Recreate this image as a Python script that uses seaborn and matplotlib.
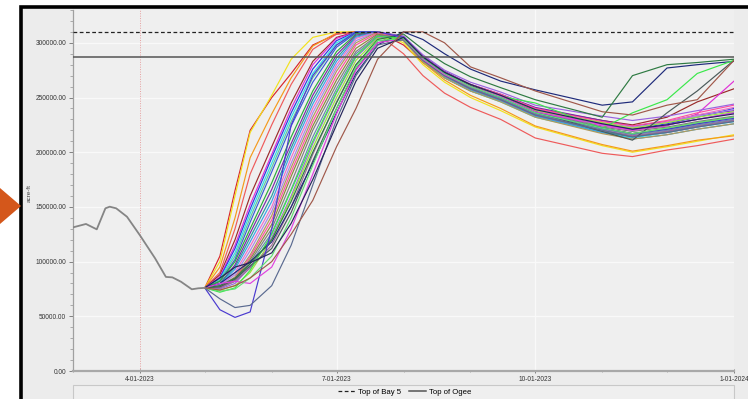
import matplotlib
matplotlib.use("Agg")
import matplotlib.pyplot as plt
import matplotlib.dates as mdates
from matplotlib.ticker import MultipleLocator, StrMethodFormatter, FuncFormatter
from matplotlib.patches import Rectangle, Polygon
from matplotlib.lines import Line2D
import pandas as pd
import seaborn as sns

# ---------------- data ----------------
# observed storage (acre-ft)
obs_dates = ["2023-03-01", "2023-03-07", "2023-03-12", "2023-03-16", "2023-03-18",
             "2023-03-21", "2023-03-26", "2023-04-01", "2023-04-08", "2023-04-13",
             "2023-04-16", "2023-04-20", "2023-04-25", "2023-04-28", "2023-05-01"]
obs_values = [131300, 134400, 129500, 148700, 150200,
              148700, 141000, 124000, 103000, 86000,
              85600, 81600, 74700, 75600, 76000]

# forecast knot dates shared by all ensemble traces
fc_dates = ["2023-05-01", "2023-05-08", "2023-05-15", "2023-05-22", "2023-06-01",
            "2023-06-10", "2023-06-20", "2023-07-01", "2023-07-10", "2023-07-20",
            "2023-08-01", "2023-08-10", "2023-08-20", "2023-09-01", "2023-09-15",
            "2023-10-01", "2023-11-01", "2023-11-15", "2023-12-01", "2023-12-15",
            "2024-01-01"]

# ensemble traces, thousand acre-ft
red_fast     = [76, 105, 165, 220, 250, 272, 298, 308, 310, 310, 298, 282, 268, 256, 247, 233, 218, 214, 218, 223, 229]
yellow       = [76, 100, 160, 218, 252, 285, 305, 310, 310, 310, 300, 280, 264, 250, 238, 223, 206, 200, 205, 210, 216]
orange       = [76, 95, 140, 195, 235, 268, 297, 309, 310, 310, 302, 282, 266, 252, 240, 224, 207, 201, 206, 211, 215]
salmon       = [76, 90, 130, 180, 225, 262, 294, 308, 310, 308, 290, 270, 254, 241, 230, 213, 199, 196, 202, 206, 212]
dark_red     = [76, 88, 120, 160, 205, 245, 283, 305, 310, 310, 304, 287, 273, 261, 252, 240, 229, 225, 232, 246, 258]
magenta      = [76, 86, 115, 152, 198, 240, 280, 304, 310, 310, 303, 284, 270, 259, 250, 237, 224, 220, 224, 235, 265]
blue         = [76, 85, 112, 148, 195, 236, 276, 302, 310, 310, 305, 286, 272, 260, 251, 238, 226, 221, 226, 232, 240]
cyan         = [76, 84, 108, 144, 190, 232, 272, 300, 310, 310, 302, 283, 268, 256, 246, 232, 218, 213, 218, 223, 228]
mint         = [76, 83, 105, 140, 186, 228, 268, 298, 309, 310, 303, 285, 270, 258, 248, 234, 220, 215, 219, 224, 229]
royal        = [76, 82, 102, 136, 182, 224, 264, 296, 309, 310, 304, 286, 272, 261, 251, 238, 226, 221, 225, 230, 236]
green        = [76, 82, 100, 130, 172, 214, 256, 292, 308, 310, 304, 285, 271, 259, 249, 235, 222, 217, 221, 226, 232]
purple       = [76, 80, 97, 126, 166, 208, 252, 289, 307, 310, 306, 288, 274, 262, 253, 241, 229, 224, 228, 234, 238]
teal         = [76, 80, 95, 122, 160, 204, 248, 286, 306, 310, 304, 285, 270, 258, 248, 234, 219, 214, 219, 224, 229]
sky          = [76, 79, 93, 118, 155, 200, 244, 283, 305, 310, 303, 284, 269, 257, 247, 233, 218, 212, 216, 221, 226]
pink         = [76, 78, 90, 114, 150, 195, 240, 280, 304, 310, 305, 287, 273, 261, 251, 238, 226, 222, 228, 234, 241]
lavender     = [76, 78, 88, 110, 146, 190, 236, 277, 302, 310, 305, 287, 273, 261, 252, 239, 227, 223, 227, 233, 239]
tan          = [76, 77, 86, 106, 142, 186, 232, 274, 300, 310, 302, 283, 268, 256, 246, 232, 217, 212, 216, 221, 226]
hot_pink     = [76, 77, 85, 104, 138, 182, 228, 270, 298, 309, 305, 287, 273, 262, 253, 240, 228, 224, 229, 236, 243]
olive        = [76, 76, 84, 102, 134, 178, 224, 266, 295, 308, 303, 284, 270, 258, 248, 235, 222, 217, 222, 227, 232]
grey_m       = [76, 76, 83, 100, 130, 172, 220, 262, 292, 307, 305, 287, 273, 261, 251, 237, 223, 219, 223, 228, 233]
steel        = [76, 76, 82, 98, 126, 166, 214, 258, 290, 306, 304, 285, 271, 259, 249, 235, 221, 216, 220, 225, 230]
violet       = [76, 75, 80, 95, 122, 160, 208, 254, 287, 305, 306, 289, 275, 264, 255, 243, 233, 229, 233, 238, 244]
lime         = [76, 74, 78, 90, 120, 158, 204, 250, 284, 304, 304, 286, 272, 261, 251, 238, 227, 222, 227, 232, 237]
mauve        = [76, 76, 82, 94, 115, 150, 198, 246, 280, 302, 303, 284, 270, 258, 248, 234, 220, 215, 219, 224, 229]
dark_grey    = [76, 77, 84, 96, 112, 145, 192, 240, 276, 300, 305, 287, 273, 261, 251, 237, 219, 211, 236, 256, 284]
navy         = [76, 80, 90, 100, 118, 150, 190, 236, 272, 298, 310, 303, 290, 276, 265, 257, 243, 246, 277, 280, 283]
bright_green = [76, 72, 76, 92, 125, 165, 210, 255, 288, 306, 304, 286, 272, 260, 251, 245, 222, 236, 248, 272, 284]
dark_green   = [76, 78, 85, 98, 120, 155, 200, 245, 280, 303, 308, 294, 281, 269, 259, 248, 232, 270, 280, 282, 285]
slate_blue   = [76, 56, 49, 54, 130, 225, 270, 298, 310, 310, 305, 286, 272, 260, 250, 236, 222, 217, 221, 226, 231]
grey_blue    = [76, 66, 58, 60, 78, 115, 170, 230, 270, 298, 303, 284, 270, 258, 248, 234, 220, 214, 218, 223, 228]
magenta_low  = [76, 80, 82, 80, 95, 130, 180, 235, 275, 300, 304, 285, 271, 260, 251, 237, 225, 220, 225, 230, 236]
light_green  = [76, 73, 75, 85, 105, 140, 188, 240, 278, 302, 304, 286, 272, 260, 250, 236, 222, 217, 222, 227, 232]
navy_low     = [76, 85, 95, 99, 108, 135, 175, 225, 265, 295, 305, 287, 273, 262, 252, 239, 226, 221, 225, 230, 235]
brown        = [76, 74, 78, 85, 100, 125, 156, 205, 240, 285, 310, 310, 300, 278, 268, 256, 237, 234, 243, 248, 284]

members = {
    "red_fast": red_fast, "yellow": yellow, "orange": orange, "salmon": salmon,
    "dark_red": dark_red, "magenta": magenta, "blue": blue, "cyan": cyan,
    "mint": mint, "royal": royal, "green": green, "purple": purple, "teal": teal,
    "sky": sky, "pink": pink, "lavender": lavender, "tan": tan, "hot_pink": hot_pink,
    "olive": olive, "grey_m": grey_m, "steel": steel, "violet": violet, "lime": lime,
    "mauve": mauve, "dark_grey": dark_grey, "navy": navy, "bright_green": bright_green,
    "dark_green": dark_green, "slate_blue": slate_blue, "grey_blue": grey_blue,
    "magenta_low": magenta_low, "light_green": light_green, "navy_low": navy_low,
    "brown": brown,
}

member_colors = {
    "red_fast": "#d8262a", "yellow": "#f2e21c", "orange": "#f59a1a", "salmon": "#ee5a5a",
    "dark_red": "#9a2a2a", "magenta": "#e030d8", "blue": "#2a3ae0", "cyan": "#2ee0e6",
    "green": "#2aae3a", "purple": "#7a2aa8", "teal": "#2a9a9a", "sky": "#3aa2ea",
    "pink": "#f070c8", "lime": "#9ae63a", "violet": "#9a62e0", "olive": "#8a8a3a",
    "steel": "#6a8ab0", "grey_m": "#808080", "dark_green": "#2e7a42", "navy": "#1e2a7a",
    "brown": "#a0584a", "bright_green": "#3ae84a", "dark_grey": "#4a5a5a",
    "slate_blue": "#4a3ad0", "grey_blue": "#5a6a90", "magenta_low": "#e040e0",
    "light_green": "#60e070", "navy_low": "#24245a", "mauve": "#a06a9a",
    "lavender": "#a888e8", "tan": "#b09a5a", "mint": "#60c8a0", "royal": "#3a5ad8",
    "hot_pink": "#ff50a0",
}

top_of_bay5 = 310000
top_of_ogee = 287000

# ---------------- build table ----------------
rows = []
for name, vals in members.items():
    for d, v in zip(fc_dates, vals):
        rows.append({"date": pd.Timestamp(d), "value": v * 1000, "member": name})
df = pd.DataFrame(rows)
obs = pd.DataFrame({"date": pd.to_datetime(obs_dates), "value": obs_values})

# ---------------- figure ----------------
W, H = 748, 399
fig = plt.figure(figsize=(W / 100, H / 100), dpi=100)
fig.patch.set_facecolor("white")

def fx(px):
    return px / W

def fy(py):
    return 1 - py / H

# framed grey panel (behind everything)
fig.patches.append(Rectangle((fx(21), fy(420)), fx(760 - 21), (420 - 7) / H,
                             transform=fig.transFigure, facecolor="#ececec",
                             edgecolor="black", lw=2.6, zorder=-10))
# orange pointer on the left
fig.patches.append(Polygon([(fx(0), fy(188)), (fx(21), fy(206)), (fx(0), fy(224))],
                           closed=True, transform=fig.transFigure,
                           facecolor="#d4571b", edgecolor="none", zorder=-5))
# legend box
fig.patches.append(Rectangle((fx(73), fy(410)), fx(734 - 73), (410 - 385) / H,
                             transform=fig.transFigure, facecolor="#efefef",
                             edgecolor="#c8c8c8", lw=0.8, zorder=-5))

ax = fig.add_axes([fx(73), fy(371), fx(734 - 73), (371 - 10) / H])
ax.set_facecolor("#efefef")

sns.lineplot(data=df, x="date", y="value", hue="member", palette=member_colors,
             estimator=None, sort=False, legend=False, lw=0.85, ax=ax, zorder=3)
sns.lineplot(data=obs, x="date", y="value", color="#858585", lw=1.3,
             estimator=None, sort=False, legend=False, ax=ax, zorder=3)

ax.axhline(top_of_bay5, color="#222222", lw=0.9, ls=(0, (3, 2)), zorder=4)
ax.axhline(top_of_ogee, color="#555555", lw=1.1, zorder=4)

ax.set_xlim(pd.Timestamp("2023-03-01"), pd.Timestamp("2024-01-01"))
ax.set_ylim(0, 330000)

# grid
ax.yaxis.grid(True, color="#f9f9f9", lw=0.9, zorder=0)
ax.set_axisbelow(True)
ax.axvline(pd.Timestamp("2023-04-01"), color="#e6a0a0", lw=0.7, ls=(0, (1, 1.5)), zorder=1)
for d in ["2023-07-01", "2023-10-01"]:
    ax.axvline(pd.Timestamp(d), color="#f9f9f9", lw=0.9, zorder=1)

# ticks
ax.xaxis.set_major_locator(mdates.MonthLocator(bymonth=[1, 4, 7, 10]))
ax.xaxis.set_minor_locator(mdates.MonthLocator())
ax.xaxis.set_major_formatter(FuncFormatter(
    lambda x, pos: (lambda d: f"{d.month}-{d.day:02d}-{d.year}")(mdates.num2date(x))))
ax.yaxis.set_major_locator(MultipleLocator(50000))
ax.yaxis.set_minor_locator(MultipleLocator(10000))
ax.yaxis.set_major_formatter(StrMethodFormatter("{x:.2f}"))

ax.tick_params(axis="both", which="major", labelsize=4.7, colors="#808080",
               labelcolor="#333333", length=3, width=0.7, pad=2)
ax.tick_params(axis="both", which="minor", colors="#909090", length=2, width=0.5)
ax.tick_params(axis="x", which="both", direction="inout")
for lab in ax.get_xticklabels(which="major") + ax.get_yticklabels(which="major"):
    lab.set_fontfamily("Liberation Sans")

ax.set_xlabel("")
ax.set_ylabel("")
for s in ["top", "right"]:
    ax.spines[s].set_visible(False)
ax.spines["left"].set_color("#a0a0a0")
ax.spines["left"].set_linewidth(0.9)
ax.spines["bottom"].set_color("#a8a8a8")
ax.spines["bottom"].set_linewidth(1.6)

fig.text(fx(29), fy(193), "acre-ft", rotation=90, fontsize=4.6, color="#444444",
         ha="center", va="center", family="Liberation Sans")

handles = [Line2D([], [], color="#222222", lw=0.9, ls=(0, (3, 2))),
           Line2D([], [], color="#555555", lw=1.1)]
fig.legend(handles, ["Top of Bay 5", "Top of Ogee"], loc="center",
           bbox_to_anchor=(fx(405), fy(392)), ncol=2, frameon=False,
           prop={"family": "Liberation Sans", "size": 5.6},
           handlelength=2.2, handletextpad=0.4, columnspacing=1.0,
           borderpad=0.1)

fig.savefig("out.png", dpi=100)
